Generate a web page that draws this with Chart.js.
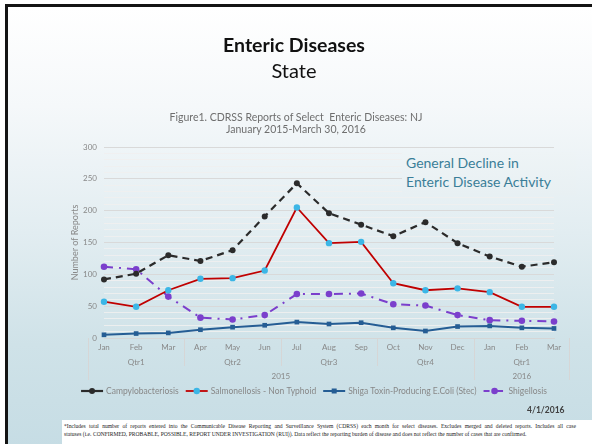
<!DOCTYPE html>
<html>
<head>
<meta charset="utf-8">
<script src="https://cdn.jsdelivr.net/npm/chart.js@4.4.0/dist/chart.umd.min.js"></script>
<style>
  html, body { margin: 0; padding: 0; }
  body {
    width: 592px; height: 444px; overflow: hidden; position: relative;
    background: #fff; font-family: Lato, sans-serif;
  }
  #slide {
    position: absolute; left: 5px; top: 4px; width: 600px; height: 450px;
    border-top: 3px solid #141414; border-left: 3px solid #141414;
    background: linear-gradient(to bottom, #ffffff 0%, #f5f8fa 22%, #e2edf1 50%, #cfe2e8 75%, #c5dce4 100%);
  }
  .txt { position: absolute; white-space: nowrap; z-index: 2; }
  #h1 { left: 0; width: 588px; top: 33px; text-align: center; font-size: 19.5px; font-weight: bold; color: #111; }
  #h2 { left: 0; width: 588px; top: 58px; text-align: center; font-size: 20px; color: #111; }
  #ctitle { left: 0; width: 592px; top: 111px; text-align: center; font-size: 10.5px; line-height: 12px; color: #6e6e6e; }
  #note {
    left: 402px; top: 152px; width: 170px; padding: 1px 0 4px 4px; font-size: 14px; line-height: 19px; color: #3a7e98;
    background: linear-gradient(to bottom, #eef4f6, #e8f0f3);
  }
  #date { left: 527px; top: 405px; font-size: 8.5px; color: #404040; font-weight: bold; }
  #foot {
    position: absolute; left: 62px; top: 420px; width: 530px; height: 24px; background: #fff; z-index: 2;
  }
  #foot div {
    position: absolute; left: 2px; width: 512px; font-family: "Liberation Serif", serif;
    font-size: 5.6px; color: #222; text-align: justify; text-align-last: justify; white-space: nowrap;
  }
  canvas { position: absolute; left: 0; top: 0; z-index: 1; }
</style>
</head>
<body>
<div id="slide"></div>
<div class="txt" id="h1">Enteric Diseases</div>
<div class="txt" id="h2">State</div>
<div class="txt" id="ctitle">Figure1. CDRSS Reports of Select&nbsp; Enteric Diseases: NJ<br>January 2015-March 30, 2016</div>
<canvas id="chart" width="592" height="444"></canvas>
<div class="txt" id="note">General Decline in<br>Enteric Disease Activity</div>
<div class="txt" id="date">4/1/2016</div>
<div id="foot">
  <div style="top:3px">*Includes total number of reports entered into the Communicable Disease Reporting and Surveillance System (CDRSS) each month for select diseases. Excludes merged and deleted reports. Includes all case</div>
  <div style="top:11px; text-align-last:left">statuses (i.e. CONFIRMED, PROBABLE, POSSIBLE, REPORT UNDER INVESTIGATION (RUI)). Data reflect the reporting burden of disease and does not reflect the number of cases that are confirmed.</div>
</div>
<script>
// Categories
const months = ['Jan', 'Feb', 'Mar', 'Apr', 'May', 'Jun', 'Jul', 'Aug', 'Sep', 'Oct', 'Nov', 'Dec', 'Jan', 'Feb', 'Mar'];
const quarters = ['Qtr1', 'Qtr2', 'Qtr3', 'Qtr4', 'Qtr1'];
const quarterSizes = [3, 3, 3, 3, 3];
const years = ['2015', '2016'];
const yearSizes = [12, 3];

// Series (reports per month)
const campylobacteriosis = [92, 101, 130, 121, 138, 191, 243, 196, 178, 160, 182, 149, 128, 112, 119];
const salmonellosis = [57, 49, 75, 93, 94, 106, 205, 149, 151, 86, 75, 78, 72, 49, 49];
const stec = [5, 7, 8, 13, 17, 20, 25, 22, 24, 16, 11, 18, 19, 16, 15];
const shigellosis = [112, 108, 65, 32, 29, 36, 69, 69, 70, 53, 51, 36, 28, 27, 26];

const seriesNames = ['Campylobacteriosis', 'Salmonellosis - Non Typhoid', 'Shiga Toxin-Producing E.Coli (Stec)', 'Shigellosis'];

const yTicks = [0, 50, 100, 150, 200, 250, 300];

const axisGray = '#888888';
const font = 'Lato';

// Draw quarter/year rows, separators and the legend
const extrasPlugin = {
  id: 'extras',
  afterDraw(chart) {
    const ctx = chart.ctx;
    const x = chart.scales.x;
    const bottom = chart.chartArea.bottom;
    const step = x.getPixelForValue(1) - x.getPixelForValue(0);
    ctx.save();
    ctx.strokeStyle = '#d6d6d6';
    ctx.lineWidth = 1;
    ctx.fillStyle = axisGray;
    ctx.font = '8px ' + font;
    ctx.textAlign = 'center';
    ctx.textBaseline = 'middle';

    // quarter row
    let start = 0;
    quarters.forEach((q, i) => {
      const end = start + quarterSizes[i] - 1;
      const cx = (x.getPixelForValue(start) + x.getPixelForValue(end)) / 2;
      ctx.fillText(q, cx, bottom + 24);
      const bx = Math.round(x.getPixelForValue(start) - step / 2) + 0.5;
      ctx.beginPath(); ctx.moveTo(bx, bottom); ctx.lineTo(bx, bottom + 28); ctx.stroke();
      start = end + 1;
    });

    // year row
    start = 0;
    years.forEach((y, i) => {
      const end = start + yearSizes[i] - 1;
      const cx = (x.getPixelForValue(start) + x.getPixelForValue(end)) / 2;
      ctx.fillText(y, cx, bottom + 38);
      const bx = Math.round(x.getPixelForValue(start) - step / 2) + 0.5;
      ctx.beginPath(); ctx.moveTo(bx, bottom); ctx.lineTo(bx, bottom + 42); ctx.stroke();
      start = end + 1;
    });
    const ex = Math.round(x.getPixelForValue(months.length - 1) + step / 2) - 0.5;
    ctx.beginPath(); ctx.moveTo(ex, bottom); ctx.lineTo(ex, bottom + 42); ctx.stroke();

    // legend
    ctx.font = '8.5px ' + font;
    ctx.textAlign = 'left';
    const sw = 22, gap = 3, itemGap = 7;
    let total = 0;
    const widths = seriesNames.map(n => ctx.measureText(n).width);
    widths.forEach(w => { total += sw + gap + w + itemGap; });
    total -= itemGap;
    let lx = 314 - total / 2;
    const ly = 391;
    chart.data.datasets.forEach((ds, i) => {
      ctx.strokeStyle = ds.borderColor;
      ctx.lineWidth = ds.borderWidth;
      ctx.setLineDash(i === 3 ? [6, 3, 1.5, 3] : []);
      ctx.beginPath(); ctx.moveTo(lx, ly); ctx.lineTo(lx + sw, ly); ctx.stroke();
      ctx.setLineDash([]);
      ctx.fillStyle = ds.pointBackgroundColor;
      const mx = lx + sw / 2;
      if (ds.pointStyle === 'rect') {
        ctx.fillRect(mx - 2.5, ly - 2.5, 5, 5);
      } else {
        ctx.beginPath(); ctx.arc(mx, ly, ds.pointRadius, 0, Math.PI * 2); ctx.fill();
      }
      ctx.fillStyle = axisGray;
      ctx.fillText(seriesNames[i], lx + sw + gap, ly + 0.5);
      lx += sw + gap + widths[i] + itemGap;
    });
    ctx.restore();
  }
};

new Chart(document.getElementById('chart'), {
  type: 'line',
  data: {
    labels: months,
    datasets: [
      {
        label: seriesNames[0],
        data: campylobacteriosis,
        borderColor: '#2b2b2b',
        backgroundColor: '#2b2b2b',
        pointBackgroundColor: '#2b2b2b',
        pointBorderWidth: 0,
        borderWidth: 2.2,
        borderDash: [7, 5],
        pointRadius: 3,
        tension: 0
      },
      {
        label: seriesNames[1],
        data: salmonellosis,
        borderColor: '#c00000',
        backgroundColor: '#3cb6e6',
        pointBackgroundColor: '#3cb6e6',
        pointBorderWidth: 0,
        borderWidth: 1.8,
        pointRadius: 3.2,
        tension: 0
      },
      {
        label: seriesNames[2],
        data: stec,
        borderColor: '#255d94',
        backgroundColor: '#255d94',
        pointBackgroundColor: '#255d94',
        pointBorderWidth: 0,
        borderWidth: 2,
        pointStyle: 'rect',
        pointRadius: 3.3,
        tension: 0
      },
      {
        label: seriesNames[3],
        data: shigellosis,
        borderColor: '#7b3fcc',
        backgroundColor: '#7b3fcc',
        pointBackgroundColor: '#7b3fcc',
        pointBorderWidth: 0,
        borderWidth: 2,
        borderDash: [9, 6, 2, 6],
        pointRadius: 3.3,
        tension: 0
      }
    ]
  },
  options: {
    responsive: false,
    animation: false,
    layout: { padding: { left: 70, right: 38, top: 147, bottom: 0 } },
    plugins: {
      legend: { display: false },
      tooltip: { enabled: false }
    },
    scales: {
      x: {
        grid: { display: false, drawTicks: false },
        border: { display: true, color: '#d6d6d6' },
        ticks: { color: axisGray, font: { family: font, size: 8 }, padding: 5, maxRotation: 0, autoSkip: false },
        afterFit(scale) { scale.height = 106; }
      },
      y: {
        min: 0,
        max: 300,
        afterBuildTicks(scale) {
          const t = [];
          for (let v = 0; v <= 300; v += 10) t.push({ value: v });
          scale.ticks = t;
        },
        grid: {
          drawTicks: false,
          color: c => (yTicks.includes(c.tick.value) ? '#d9d9d9' : 'rgba(240,240,240,0.9)'),
          lineWidth: 1
        },
        border: { display: false },
        ticks: {
          autoSkip: false,
          color: axisGray,
          font: { family: font, size: 8 },
          padding: 7,
          callback: v => (yTicks.includes(v) ? v : '')
        },
        title: { display: true, text: 'Number of Reports', color: axisGray, font: { family: font, size: 9 }, padding: { top: 0, bottom: 0 } },
        afterFit(scale) { scale.width = 34; }
      }
    }
  },
  plugins: [extrasPlugin]
});
</script>
</body>
</html>
